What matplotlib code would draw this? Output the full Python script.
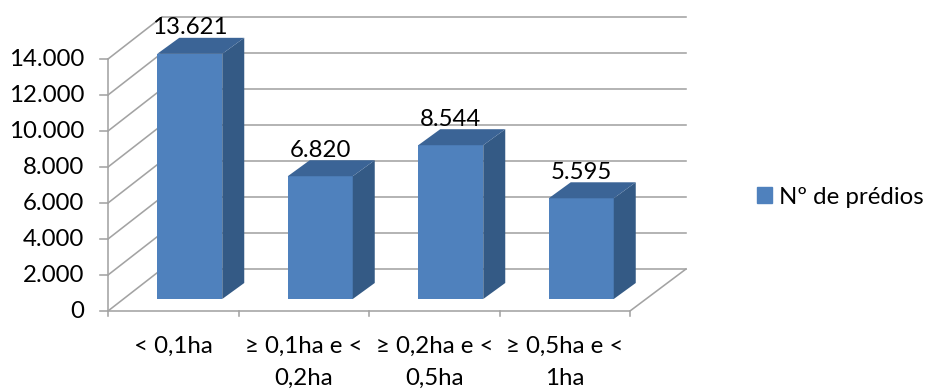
import matplotlib
matplotlib.use("Agg")

import matplotlib.pyplot as plt
from matplotlib.patches import Patch, Polygon

categories = ["< 0,1ha", "≥ 0,1ha e <\n0,2ha", "≥ 0,2ha e <\n0,5ha", "≥ 0,5ha e <\n1ha"]
values = [13621, 6820, 8544, 5595]
value_labels = ["13.621", "6.820", "8.544", "5.595"]
yticks = [0, 2000, 4000, 6000, 8000, 10000, 12000, 14000]
ytick_labels = ["0", "2.000", "4.000", "6.000", "8.000", "10.000", "12.000", "14.000"]

plt.rcParams["font.family"] = ["Lato", "DejaVu Sans"]

W, H = 931, 389
X0, Y0 = 108, 311        # origem do eixo, em pixels
PX_CAT = 130.5           # pixels por categoria
PX_VAL = 0.018           # pixels por unidade de valor
FS = 17.3
INK = "#000000"


# conversao de pixels para unidades dos eixos
def dx(px):
    return px / PX_CAT


def dy(px):
    return px / PX_VAL


fig = plt.figure(figsize=(W / 100, H / 100), dpi=100)
ax = fig.add_axes([0, 0, 1, 1])
ax.set_xlim(-dx(X0), dx(W - X0))
ax.set_ylim(-dy(H - Y0), dy(Y0))
ax.axis("off")

grey = "#a3a3a3"
lw = 1.15
wall_x, wall_y = dx(54), dy(42)
n = len(categories)

# parede do fundo e parede lateral
for t, lab in zip(yticks, ytick_labels):
    ax.plot([0, wall_x], [t, t + wall_y], color=grey, lw=lw, zorder=1)
    ax.plot([wall_x, n + dx(56)], [t + wall_y, t + wall_y], color=grey, lw=lw, zorder=1)
    ax.plot([-dx(8), 0], [t, t], color=grey, lw=lw, zorder=1)
    ax.text(-dx(24), t - dy(1), lab, ha="right", va="center", fontsize=FS, color=INK)

# chao e eixos
ax.plot([0, n, n + dx(56)], [0, 0, wall_y], color=grey, lw=lw, zorder=1)
ax.plot([0, 0], [0, yticks[-1]], color=grey, lw=lw, zorder=1)
for i in range(n + 1):
    ax.plot([i, i], [0, -dy(5)], color=grey, lw=lw, zorder=1)

# barras 3D
front = "#4f81bd"
side = "#345a85"
top = "#3b6496"
bar_w = dx(65)
base = dy(12)
off = dx(16.5)
depth_x, depth_y = dx(22), dy(16)

for i, v in enumerate(values):
    c = i + 0.5 + off
    l, r = c - bar_w / 2, c + bar_w / 2
    t = base + v
    ax.bar(c, v, width=bar_w, bottom=base, color=front, zorder=3)
    ax.add_patch(Polygon([(r, base), (r + depth_x, base + depth_y), (r + depth_x, t + depth_y), (r, t)],
                         color=side, lw=0, zorder=3))
    ax.add_patch(Polygon([(l, t), (l + depth_x, t + depth_y), (r + depth_x, t + depth_y), (r, t)],
                         color=top, lw=0, zorder=3))
    ax.text(c, t + depth_y + dy(10), value_labels[i], ha="center", va="center",
            fontsize=FS, color=INK, zorder=4)

# rotulos das categorias
for i, lab in enumerate(categories):
    ax.text(i + 0.5, -dy(25), lab, ha="center", va="top", fontsize=FS, color=INK,
            linespacing=1.62)

ax.legend(handles=[Patch(color=front, label="Nº de prédios")], loc="center left",
          bbox_to_anchor=(738 / W, 1 - 197 / H), frameon=False, fontsize=FS,
          handlelength=0.62, handleheight=0.62, handletextpad=0.3, borderpad=0.3,
          labelcolor=INK)

plt.savefig("out.png", dpi=100)
plt.close()
